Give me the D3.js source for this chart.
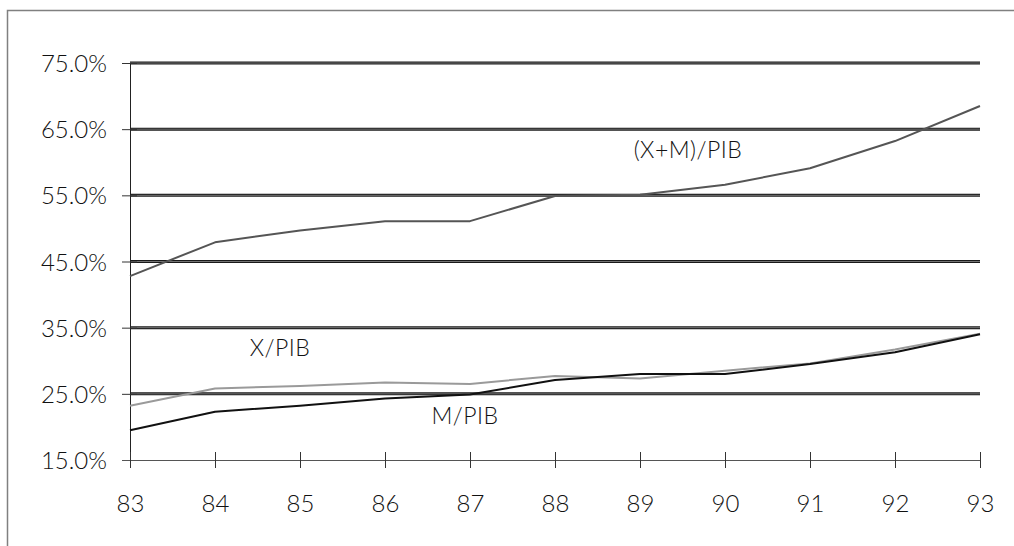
<!DOCTYPE html>
<html>
<head>
<meta charset="utf-8">
<script src="https://cdn.jsdelivr.net/npm/d3@7"></script>
<style>
  html, body { margin: 0; padding: 0; background: #fff; }
  svg { display: block; }
  text { font-family: Lato, "Liberation Sans", Arial, sans-serif; font-weight: 300; fill: #111; }
</style>
</head>
<body>
<svg id="chart" width="1014" height="546"></svg>
<script>
// Years (two-digit) on the horizontal axis
const years = ["83", "84", "85", "86", "87", "88", "89", "90", "91", "92", "93"];

// Ratios to GDP, in percent
const tradeOpenness = [42.8, 47.9, 49.7, 51.1, 51.1, 54.9, 55.1, 56.6, 59.1, 63.2, 68.5]; // (X+M)/PIB
const exportsShare  = [23.2, 25.8, 26.2, 26.7, 26.5, 27.7, 27.3, 28.5, 29.6, 31.7, 34.1]; // X/PIB
const importsShare  = [19.5, 22.3, 23.2, 24.3, 24.9, 27.1, 28.0, 28.0, 29.5, 31.3, 34.0]; // M/PIB

// Vertical axis ticks
const yTicks = [15, 25, 35, 45, 55, 65, 75];

const series = [
  { name: "(X+M)/PIB", values: tradeOpenness, color: "#555555", label: { x: 688, y: 158 } },
  { name: "X/PIB",     values: exportsShare,  color: "#9a9a9a", label: { x: 280, y: 356 } },
  { name: "M/PIB",     values: importsShare,  color: "#111111", label: { x: 465, y: 424 } }
];

const FONT = "Lato, 'Liberation Sans', Arial, sans-serif";

const svg = d3.select("#chart");

// Outer frame (only its top and left edges fall inside the view)
svg.append("rect")
  .attr("x", 7.5).attr("y", 10.5)
  .attr("width", 1100).attr("height", 600)
  .attr("fill", "none").attr("stroke", "#808080").attr("stroke-width", 1.5);

const x = d3.scalePoint().domain(years).range([130, 980]);
const y = d3.scaleLinear().domain([15, 75]).range([460, 63]);

// Horizontal gridlines (double rule)
const grid = svg.append("g");
yTicks.filter(t => t > 15).forEach(t => {
  grid.append("line")
    .attr("x1", 130).attr("x2", 980)
    .attr("y1", y(t)).attr("y2", y(t))
    .attr("stroke", "#1a1a1a").attr("stroke-width", 3);
  grid.append("line")
    .attr("x1", 130).attr("x2", 980)
    .attr("y1", y(t)).attr("y2", y(t))
    .attr("stroke", "#8a8a8a").attr("stroke-width", 0.8);
});

// Vertical axis
const yAxis = d3.axisLeft(y)
  .tickValues(yTicks)
  .tickSize(8)
  .tickPadding(14)
  .tickFormat(d => d3.format(".1f")(d) + "%");

const gy = svg.append("g")
  .attr("transform", "translate(130,0)")
  .call(yAxis)
  .attr("font-family", FONT)
  .attr("font-size", 24);
gy.select(".domain").attr("stroke", "#222").attr("d", "M0.5,63V467");
gy.selectAll(".tick line").attr("stroke", "#333").attr("x1", 7).attr("x2", -8);
gy.selectAll(".tick text")
  .attr("x", -23)
  .attr("dy", "0.36em")
  .attr("fill", "#111");

// Horizontal axis
const xAxis = d3.axisBottom(x).tickSize(8).tickPadding(27);
const gx = svg.append("g")
  .attr("transform", "translate(0,460)")
  .call(xAxis)
  .attr("font-family", FONT)
  .attr("font-size", 24);
gx.select(".domain").attr("stroke", "#555").attr("d", "M122,0.5H980");
gx.selectAll(".tick line").attr("stroke", "#333").attr("y1", -8).attr("y2", 8);
gx.selectAll(".tick text").attr("fill", "#111");

// Series lines
const line = d3.line()
  .x((d, i) => x(years[i]))
  .y(d => y(d));

series.forEach(s => {
  svg.append("path")
    .datum(s.values)
    .attr("d", line)
    .attr("fill", "none")
    .attr("stroke", s.color)
    .attr("stroke-width", 2)
    .attr("stroke-linejoin", "round");
});

// Series labels
series.forEach(s => {
  svg.append("text")
    .attr("x", s.label.x).attr("y", s.label.y)
    .attr("text-anchor", "middle")
    .attr("font-family", FONT)
    .attr("font-size", 23)
    .attr("letter-spacing", 0.5)
    .text(s.name);
});
</script>
</body>
</html>
